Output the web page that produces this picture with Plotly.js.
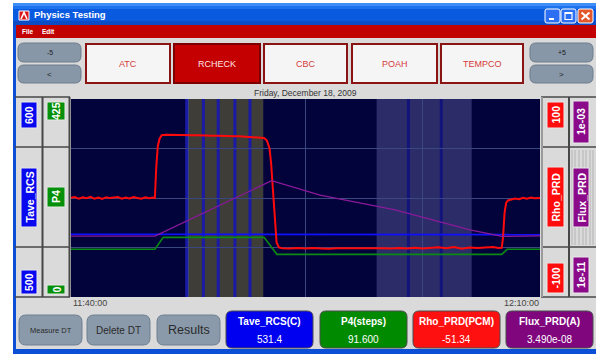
<!DOCTYPE html>
<html>
<head>
<meta charset="utf-8">
<script src="https://cdn.plot.ly/plotly-3.0.1.min.js"></script>
<style>
html,body{margin:0;padding:0;background:#ffffff;overflow:hidden;}
#chart{width:596px;height:354px;}
</style>
</head>
<body>
<div id="chart"></div>
<script>
// ===================== DATA =====================
const windowTitle = 'Physics Testing';
const menuItems = ['File', 'Edit'];
const tabLabels = ['ATC', 'RCHECK', 'CBC', 'POAH', 'TEMPCO'];
const activeTab = 'RCHECK';
const leftNav = ['-5', '<'];
const rightNav = ['+5', '>'];
const dateLabel = 'Friday, December 18, 2009';
const dayPrefix = '2009-12-18 ';
const timeRange = ['11:40:00', '12:10:00'];
const timeTickLabels = ['11:40:00', '12:10:00'];
const actionButtons = ['Measure DT', 'Delete DT', 'Results'];

const seriesNames = ['Tave_RCS', 'P4', 'Rho_PRD', 'Flux_PRD'];
const scaleTopLabels = ['600', '425', '100', '1e-03'];
const scaleBottomLabels = ['500', '0', '-100', '1e-11'];
const readoutTitles = ['Tave_RCS(C)', 'P4(steps)', 'Rho_PRD(PCM)', 'Flux_PRD(A)'];
const readoutValues = ['531.4', '91.600', '-51.34', '3.490e-08'];

const taveRange = [500, 600];
const p4Range = [0, 425];
const rhoRange = [-100, 100];
const fluxRangeLog = [-11, -3];

// Tave_RCS (deg C)
const taveTimes = ['11:40:00', '11:50:00', '12:00:00', '12:10:00'];
const taveValues = [531.7, 531.6, 531.6, 531.5];

// P4 (steps)
const p4Times = ['11:40:00', '11:45:22', '11:45:54', '11:52:21', '11:53:10', '12:07:33', '12:07:54', '12:10:00'];
const p4Values = [102.4, 102.4, 128.0, 128.0, 91.6, 91.6, 102.4, 102.4];

// Rho_PRD (pcm)
const rhoTimes = [
  '11:40:00','11:40:15','11:40:30','11:40:45','11:41:00','11:41:15','11:41:30','11:41:45',
  '11:42:00','11:42:15','11:42:30','11:42:45','11:43:00','11:43:15','11:43:30','11:43:45',
  '11:44:00','11:44:15','11:44:30','11:44:45','11:45:00','11:45:15','11:45:22','11:45:27',
  '11:45:33','11:45:40','11:45:48',
  '11:46:05','11:46:25','11:46:45','11:47:05','11:47:25','11:47:45','11:48:05','11:48:25',
  '11:48:45','11:49:05','11:49:25','11:49:45','11:50:05','11:50:25','11:50:45','11:51:05',
  '11:51:25','11:51:45','11:52:05','11:52:21',
  '11:52:32','11:52:42','11:52:48','11:52:59','11:53:09','11:53:18',
  '11:53:30','11:54:00','11:54:30','11:55:00','11:55:30','11:56:00','11:56:30','11:57:00',
  '11:57:30','11:58:00','11:58:30','11:59:00','11:59:30','12:00:00','12:00:30','12:01:00',
  '12:01:30','12:02:00','12:02:30','12:03:00','12:03:30','12:04:00','12:04:30','12:05:00',
  '12:05:30','12:06:00','12:06:30','12:07:00','12:07:20',
  '12:07:33','12:07:38','12:07:44','12:07:50','12:07:57',
  '12:08:10','12:08:25','12:08:40','12:08:55','12:09:10','12:09:25','12:09:40','12:10:00'
];
const rhoValues = [
  0.2, 1.0, -0.8, 0.6, -0.3, 1.2, -0.6, 0.5,
  -1.0, 0.8, -0.1, 0.4, 1.1, -0.7, 0.5, -0.4,
  1.0, 0.1, -0.8, 0.7, -0.2, 0.4, 0.0, 30.0,
  52.0, 60.0, 63.4,
  63.8, 63.6, 63.9, 63.5, 63.7, 63.3, 63.5, 63.1,
  63.2, 62.9, 63.0, 62.6, 62.7, 62.4, 62.4, 62.0,
  61.9, 61.6, 61.3, 60.6,
  58.0, 50.0, 35.0, -10.0, -45.0, -50.0,
  -50.8, -51.1, -50.6, -51.0, -50.5, -50.9, -51.2, -50.7,
  -50.6, -51.0, -50.6, -50.9, -50.4, -50.8, -51.1, -50.6,
  -50.9, -50.3, -51.0, -50.5, -49.8, -50.8, -49.6, -51.3,
  -49.9, -50.6, -50.2, -49.6, -50.6,
  -50.4, -40.0, -15.0, -5.0, -2.5,
  -1.5, -0.6, -1.2, 0.2, -0.8, 0.4, -0.3, 0.1
];

// Flux_PRD (A), log scale
const fluxTimes = ['11:40:00', '11:45:22', '11:52:50', '11:55:56', '12:00:44', '12:05:31', '12:07:35', '12:10:00'];
const fluxValues = [2.9e-9, 2.9e-9, 5.0e-7, 1.3e-7, 3.3e-8, 5.1e-9, 2.8e-9, 2.95e-9];

// Marked intervals
const grayBand = ['11:47:24', '11:52:18'];
const grayMarks = ['11:47:24', '11:48:28', '11:49:25', '11:50:29', '11:51:27'];
const lavenderBand = ['11:59:33', '12:05:38'];
const lavenderMarks = ['12:01:35', '12:03:41'];

// ===================== LAYOUT HELPERS =====================
const FONT = 'Liberation Sans, Arial, sans-serif';
const PL = 71, PR = 540, PT = 99, PB = 297;
const X = p => (p - PL) / (PR - PL);
const Y = p => (PB - p) / (PB - PT);
const T = s => dayPrefix + s;

function rect(x0, y0, x1, y1, fill, line, lw) {
  return {type: 'rect', xref: 'paper', yref: 'paper', layer: 'above',
    x0: X(x0), x1: X(x1), y0: Y(y1), y1: Y(y0),
    fillcolor: fill, line: {color: line || fill, width: lw || 0}};
}
function rrect(x0, y0, x1, y1, r, fill, line, lw) {
  const p = (a, b) => X(a) + ',' + Y(b);
  const path = 'M ' + p(x0 + r, y0) + ' L ' + p(x1 - r, y0) + ' Q ' + p(x1, y0) + ' ' + p(x1, y0 + r) +
    ' L ' + p(x1, y1 - r) + ' Q ' + p(x1, y1) + ' ' + p(x1 - r, y1) +
    ' L ' + p(x0 + r, y1) + ' Q ' + p(x0, y1) + ' ' + p(x0, y1 - r) +
    ' L ' + p(x0, y0 + r) + ' Q ' + p(x0, y0) + ' ' + p(x0 + r, y0) + ' Z';
  return {type: 'path', xref: 'paper', yref: 'paper', layer: 'above', path: path,
    fillcolor: fill, line: {color: line || fill, width: lw || 0}};
}
function seg(x0, y0, x1, y1, color, w) {
  return {type: 'line', xref: 'paper', yref: 'paper', layer: 'above',
    x0: X(x0), x1: X(x1), y0: Y(y0), y1: Y(y1), line: {color: color, width: w}};
}
function txt(x, y, text, size, color, extra) {
  return Object.assign({xref: 'paper', yref: 'paper', x: X(x), y: Y(y), text: text, showarrow: false,
    font: {family: FONT, size: size, color: color}, xanchor: 'center', yanchor: 'middle'}, extra || {});
}

const shapes = [];
const ann = [];

// ----- plot bands (data driven) -----
shapes.push({type: 'rect', xref: 'x', yref: 'paper', layer: 'below', x0: T(grayBand[0]), x1: T(grayBand[1]),
  y0: 0, y1: 1, fillcolor: '#3e3d38', line: {width: 0}});
grayMarks.forEach(t => shapes.push({type: 'line', xref: 'x', yref: 'paper', layer: 'below',
  x0: T(t), x1: T(t), y0: 0, y1: 1, line: {color: '#1a1aa6', width: 3}}));
shapes.push({type: 'rect', xref: 'x', yref: 'paper', layer: 'below', x0: T(lavenderBand[0]), x1: T(lavenderBand[1]),
  y0: 0, y1: 1, fillcolor: '#2c2c68', line: {width: 0}});
lavenderMarks.forEach(t => shapes.push({type: 'line', xref: 'x', yref: 'paper', layer: 'below',
  x0: T(t), x1: T(t), y0: 0, y1: 1, line: {color: '#13137c', width: 3}}));

// ----- window chrome -----
shapes.push(rect(13, 3, 596, 25, '#0a5adf'));
shapes.push(rect(13, 3, 596, 6, '#3d8ef6'));
shapes.push(rect(13, 6, 596, 9, '#1e72ee'));
shapes.push(rect(13, 21, 596, 25, '#0a4cc6'));
shapes.push(rect(13, 25, 16, 354, '#0b4fd6'));
shapes.push(rect(13, 349, 596, 354, '#0b4fd6'));
shapes.push(rect(16, 25, 596, 38, '#c30000'));
// title icon
shapes.push(rect(19, 11, 29, 20, '#d81818', '#ffffff', 1));
shapes.push({type: 'path', xref: 'paper', yref: 'paper', layer: 'above',
  path: 'M ' + X(21) + ',' + Y(19) + ' L ' + X(24) + ',' + Y(12.5) + ' L ' + X(27) + ',' + Y(19),
  line: {color: '#ffffff', width: 1.6}});
ann.push(txt(32, 14.5, '<b>' + windowTitle + '</b>', 9.5, '#ffffff', {xanchor: 'left'}));
// window buttons
shapes.push(rrect(545, 9, 560, 23, 2, '#2d6ff2', '#ffffff', 1));
shapes.push(rect(549, 18, 554, 20, '#ffffff'));
shapes.push(rrect(561, 9, 576, 23, 2, '#2d6ff2', '#ffffff', 1));
shapes.push(rect(565, 12.5, 572, 19.5, 'rgba(0,0,0,0)', '#ffffff', 1.2));
shapes.push(rect(565, 12.5, 572, 14, '#ffffff'));
shapes.push(rrect(578, 9, 593, 23, 2, '#e2582c', '#ffffff', 1));
shapes.push(seg(581.5, 12.5, 589.5, 19.5, '#ffffff', 2));
shapes.push(seg(581.5, 19.5, 589.5, 12.5, '#ffffff', 2));
// menu
ann.push(txt(20, 31.5, '<b>' + menuItems[0] + '</b>', 6.5, '#ffffff', {xanchor: 'left'}));
ann.push(txt(40, 31.5, '<b>' + menuItems[1] + '</b>', 6.5, '#ffffff', {xanchor: 'left'}));

// nav buttons
const navBtn = (x0, x1, y0, y1, label, size) => {
  shapes.push(rrect(x0, y0, x1, y1, 6, '#8797a8', '#6c7c8d', 1));
  ann.push(txt((x0 + x1) / 2, (y0 + y1) / 2, label, size, '#1c1c1c'));
};
navBtn(18, 81, 43, 62, leftNav[0], 7);
navBtn(18, 81, 65, 83, leftNav[1], 8);
navBtn(530, 593, 43, 62, rightNav[0], 7);
navBtn(530, 593, 65, 83, rightNav[1], 8);

// tabs
const tabX = [[86, 170], [174, 260], [264, 347], [352, 437], [441, 523]];
tabLabels.forEach((lab, i) => {
  const on = lab === activeTab;
  shapes.push(rect(tabX[i][0], 44, tabX[i][1], 83, on ? '#c40000' : '#f5f5f5', on ? '#7c0000' : '#8a1414', 2));
  ann.push(txt((tabX[i][0] + tabX[i][1]) / 2, 64, lab, 9, on ? '#ffe4e4' : '#d63a3a'));
});

// date
ann.push(txt((PL + PR) / 2, 93, dateLabel, 8.5, '#333333'));

// side panels frames
const frameC = '#474747';
[97, 147, 247, 297].forEach(y => shapes.push(seg(15, y, 70, y, frameC, 1.5)));
[42.5, 69.5].forEach(x => shapes.push(seg(x, 97, x, 297, frameC, 2)));
[97, 147, 247, 297].forEach(y => shapes.push(seg(541, y, 596, y, frameC, 1.5)));
shapes.push(seg(542, 97, 542, 297, '#9a9a9a', 2));
shapes.push(seg(569, 97, 569, 297, frameC, 2));
// striped flux column middle
[572, 575, 579, 583, 586, 590, 593].forEach(x => shapes.push(seg(x, 150, x, 245, '#b4b4b4', 1)));

// scale labels
const colX = [[21, 37], [47, 65], [547, 564], [573, 589]];
const colColor = ['#0808f0', '#05900a', '#ff0c0c', '#8a0a8a'];
const topY = [[102, 128], [102, 120], [102, 128], [101, 143]];
const midY = [[168, 227], [187, 207], [167, 227], [168, 227]];
const botY = [[270, 294], [285, 294], [263, 293], [257, 293]];
const label = (c, yy, text) => {
  shapes.push(rect(colX[c][0], yy[0], colX[c][1], yy[1], colColor[c], '#e8e8e8', 1));
  ann.push(txt((colX[c][0] + colX[c][1]) / 2, (yy[0] + yy[1]) / 2, '<b>' + text + '</b>', 10.5, '#ffffff', {textangle: -90}));
};
for (let c = 0; c < 4; c++) {
  label(c, topY[c], scaleTopLabels[c]);
  label(c, midY[c], seriesNames[c]);
  label(c, botY[c], scaleBottomLabels[c]);
}

// time labels
ann.push(txt(PL, 303, timeTickLabels[0], 9, '#444444', {xanchor: 'left'}));
ann.push(txt(PR + 1, 303, timeTickLabels[1], 9, '#444444', {xanchor: 'right'}));

// action buttons
const actX = [[19, 82], [87, 150], [157, 220]];
const actSize = [7.5, 10, 12.5];
actionButtons.forEach((lab, i) => {
  shapes.push(rrect(actX[i][0], 315, actX[i][1], 345, 7, '#8a9aab', '#6f7f90', 1));
  ann.push(txt((actX[i][0] + actX[i][1]) / 2, 330, lab, actSize[i], '#2a2a2a'));
});

// readouts
const rdX = [[226, 313], [320, 407], [413, 500], [506, 593]];
const rdColor = ['#0000f0', '#008a00', '#ff1010', '#80067e'];
readoutTitles.forEach((lab, i) => {
  shapes.push(rrect(rdX[i][0], 311, rdX[i][1], 348, 6, rdColor[i], '#4a4a4a', 1));
  ann.push(txt((rdX[i][0] + rdX[i][1]) / 2, 321, '<b>' + lab + '</b>', 10, '#ffffff'));
  ann.push(txt((rdX[i][0] + rdX[i][1]) / 2, 339, readoutValues[i], 10, '#ffffff'));
});

// ===================== TRACES =====================
const traces = [
  {x: fluxTimes.map(T), y: fluxValues, yaxis: 'y4', name: seriesNames[3], mode: 'lines',
    line: {color: '#8a1a9a', width: 1.3}},
  {x: p4Times.map(T), y: p4Values, yaxis: 'y2', name: seriesNames[1], mode: 'lines',
    line: {color: '#0a8a12', width: 1.6}},
  {x: taveTimes.map(T), y: taveValues, yaxis: 'y', name: seriesNames[0], mode: 'lines',
    line: {color: '#1010ff', width: 1.6}},
  {x: rhoTimes.map(T), y: rhoValues, yaxis: 'y3', name: seriesNames[2], mode: 'lines',
    line: {color: '#ff0a0a', width: 2}}
];

const gridC = '#3a4882';
const layout = {
  width: 596, height: 354, autosize: false,
  margin: {l: PL, r: 596 - PR, t: PT, b: 354 - PB, pad: 0},
  paper_bgcolor: '#dadada',
  plot_bgcolor: '#03033c',
  showlegend: false,
  xaxis: {type: 'date', range: timeRange.map(T), tick0: T(timeRange[0]), dtick: 450000,
    showticklabels: false, ticks: '', showgrid: true, gridcolor: gridC, gridwidth: 1,
    zeroline: false, showline: false, fixedrange: true},
  yaxis: {range: taveRange, tick0: 500, dtick: 25, showticklabels: false, ticks: '',
    showgrid: true, gridcolor: gridC, gridwidth: 1, zeroline: false, showline: false, fixedrange: true},
  yaxis2: {overlaying: 'y', range: p4Range, visible: false, fixedrange: true},
  yaxis3: {overlaying: 'y', range: rhoRange, visible: false, fixedrange: true},
  yaxis4: {overlaying: 'y', type: 'log', range: fluxRangeLog, visible: false, fixedrange: true},
  shapes: shapes,
  annotations: ann
};

// white page outside the window
layout.shapes.unshift({type: 'rect', xref: 'paper', yref: 'paper', layer: 'below',
  x0: X(0), x1: X(13), y0: Y(354), y1: Y(0), fillcolor: '#ffffff', line: {width: 0}});
layout.shapes.unshift({type: 'rect', xref: 'paper', yref: 'paper', layer: 'below',
  x0: X(0), x1: X(596), y0: Y(3), y1: Y(0), fillcolor: '#ffffff', line: {width: 0}});

Plotly.newPlot('chart', traces, layout, {staticPlot: true, displayModeBar: false});
</script>
</body>
</html>
